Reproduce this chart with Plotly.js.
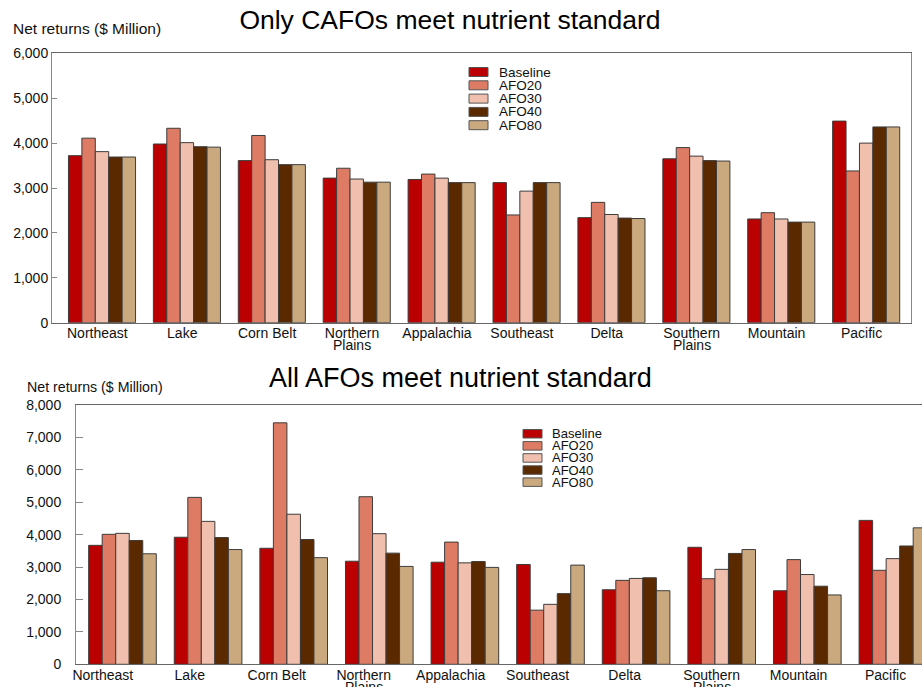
<!DOCTYPE html>
<html>
<head>
<meta charset="utf-8">
<script src="https://cdn.plot.ly/plotly-3.0.1.min.js"></script>
<style>
  html, body { margin: 0; padding: 0; background: #fff; }
  #chart { width: 922px; height: 687px; }
</style>
</head>
<body>
<div id="chart"></div>
<script>
// ---- Data ----
const categories = ['Northeast', 'Lake', 'Corn Belt', 'Northern Plains', 'Appalachia', 'Southeast', 'Delta', 'Southern Plains', 'Mountain', 'Pacific'];
const tickLine1 = ['Northeast', 'Lake', 'Corn Belt', 'Northern', 'Appalachia', 'Southeast', 'Delta', 'Southern', 'Mountain', 'Pacific'];
const tickLine2 = ['', '', '', 'Plains', '', '', '', 'Plains', '', ''];
const seriesNames = ['Baseline', 'AFO20', 'AFO30', 'AFO40', 'AFO80'];
const seriesColors = ['#BA0000', '#DE7B64', '#F1BFAD', '#5A2900', '#CAA97F'];

// Only CAFOs meet nutrient standard ($ Million)
const cafoBaseline = [3720, 3980, 3610, 3220, 3190, 3120, 2340, 3650, 2310, 4490];
const cafoAFO20    = [4110, 4330, 4170, 3440, 3310, 2400, 2680, 3900, 2450, 3380];
const cafoAFO30    = [3810, 4010, 3630, 3200, 3220, 2930, 2410, 3710, 2310, 4000];
const cafoAFO40    = [3690, 3920, 3520, 3130, 3120, 3120, 2330, 3610, 2240, 4360];
const cafoAFO80    = [3690, 3910, 3520, 3130, 3120, 3120, 2320, 3600, 2240, 4360];

// All AFOs meet nutrient standard ($ Million)
const afoBaseline = [3670, 3920, 3580, 3180, 3150, 3080, 2300, 3610, 2270, 4440];
const afoAFO20    = [4010, 5150, 7450, 5170, 3770, 1670, 2590, 2640, 3230, 2900];
const afoAFO30    = [4040, 4410, 4630, 4030, 3130, 1850, 2650, 2930, 2770, 3260];
const afoAFO40    = [3820, 3910, 3850, 3430, 3170, 2180, 2670, 3420, 2410, 3650];
const afoAFO80    = [3410, 3540, 3290, 3020, 2990, 3060, 2270, 3540, 2140, 4210];

const topTitle = 'Only CAFOs meet nutrient standard';
const bottomTitle = 'All AFOs meet nutrient standard';
const yTitle = 'Net returns ($ Million)';

// ---- Build ----
const cafoSeries = [cafoBaseline, cafoAFO20, cafoAFO30, cafoAFO40, cafoAFO80];
const afoSeries = [afoBaseline, afoAFO20, afoAFO30, afoAFO40, afoAFO80];
const idx = categories.map((c, i) => i);
const FONT = 'Liberation Sans, Arial, Helvetica, sans-serif';

const traces = [];
seriesNames.forEach((name, s) => {
  traces.push({
    type: 'bar', name: name, x: idx, y: cafoSeries[s],
    xaxis: 'x', yaxis: 'y',
    marker: { color: seriesColors[s], line: { color: '#3c3c3c', width: 1 } },
    customdata: categories, hovertemplate: '%{customdata}<br>' + name + ': %{y:,}<extra></extra>',
    showlegend: false
  });
});
seriesNames.forEach((name, s) => {
  traces.push({
    type: 'bar', name: name, x: idx, y: afoSeries[s],
    xaxis: 'x2', yaxis: 'y2',
    marker: { color: seriesColors[s], line: { color: '#3c3c3c', width: 1 } },
    customdata: categories, hovertemplate: '%{customdata}<br>' + name + ': %{y:,}<extra></extra>',
    showlegend: false
  });
});

const W = 922, H = 687;
const px = v => v / W;
const py = v => 1 - v / H;

const shapes = [];
const annotations = [];

// compact legends (shapes + text)
function addLegend(x0, y0, step, swW, swH, textX, fontSize) {
  seriesNames.forEach((name, s) => {
    const top = y0 + s * step;
    shapes.push({
      type: 'rect', xref: 'paper', yref: 'paper',
      x0: px(x0), x1: px(x0 + swW), y0: py(top + swH), y1: py(top),
      fillcolor: seriesColors[s], line: { color: '#555', width: 1 }
    });
    annotations.push({
      xref: 'paper', yref: 'paper', x: px(textX), y: py(top + swH / 2),
      xanchor: 'left', yanchor: 'middle', showarrow: false, text: name,
      font: { family: FONT, size: fontSize, color: '#111' }
    });
  });
}
addLegend(469, 67.5, 13.3, 19, 9, 497, 13.5);
addLegend(523, 429.5, 12.1, 19, 8.5, 550, 13);

const tickFont = { family: FONT, size: 14, color: '#111' };
const topTickVals = idx.map(i => i - 0.055);
const botTickVals = idx.map(i => i - 0.23 + 0.016 * i);

// second line of two-line category labels, placed tight under the first line
function addLine2(xref, vals, yCenter) {
  tickLine2.forEach((t, i) => {
    if (!t) return;
    annotations.push({
      xref: xref, yref: 'paper', x: vals[i], y: py(yCenter), xanchor: 'center', yanchor: 'middle',
      showarrow: false, text: t, font: tickFont
    });
  });
}
addLine2('x', topTickVals, 344.5);
addLine2('x2', botTickVals, 687.5);

annotations.push({
  xref: 'paper', yref: 'paper', x: px(460), y: py(378), xanchor: 'center', yanchor: 'middle',
  showarrow: false, text: bottomTitle, font: { family: FONT, size: 27, color: '#000' }
});
annotations.push({
  xref: 'paper', yref: 'paper', x: px(11), y: py(29), xanchor: 'left', yanchor: 'middle',
  showarrow: false, text: yTitle, font: { family: FONT, size: 15.5, color: '#111' }
});
annotations.push({
  xref: 'paper', yref: 'paper', x: px(25), y: py(387), xanchor: 'left', yanchor: 'middle',
  showarrow: false, text: yTitle, font: { family: FONT, size: 14.2, color: '#111' }
});

const layout = {
  width: W, height: H,
  margin: { l: 0, r: 0, t: 0, b: 0, pad: 0 },
  paper_bgcolor: '#fff', plot_bgcolor: '#fff',
  barmode: 'group', bargap: 0.21, bargroupgap: 0,
  title: {
    text: topTitle, x: px(450), xanchor: 'center', y: py(20), yanchor: 'middle',
    font: { family: FONT, size: 26.5, color: '#000' }
  },
  xaxis: {
    domain: [px(52), px(911)], anchor: 'y', range: [-0.589, 9.528],
    tickmode: 'array', tickvals: topTickVals, ticktext: tickLine1,
    ticks: '', ticklabelstandoff: -3, showgrid: false, zeroline: false,
    showline: true, linecolor: '#666', linewidth: 1, mirror: true,
    tickfont: tickFont, fixedrange: true
  },
  yaxis: {
    domain: [py(322.7), py(53.3)], anchor: 'x', range: [0, 6000],
    tickmode: 'linear', tick0: 0, dtick: 1000, tickformat: ',d',
    ticks: 'inside', ticklen: 5, tickcolor: '#888',
    showgrid: false, zeroline: false,
    showline: true, linecolor: '#888', linewidth: 1, mirror: true,
    tickfont: tickFont, fixedrange: true
  },
  xaxis2: {
    domain: [px(76), 1], anchor: 'y2', range: [-0.543, 9.34],
    tickmode: 'array', tickvals: botTickVals, ticktext: tickLine1,
    ticks: '', ticklabelstandoff: -2, showgrid: false, zeroline: false,
    showline: true, linecolor: '#666', linewidth: 1, mirror: true,
    tickfont: tickFont, fixedrange: true
  },
  yaxis2: {
    domain: [py(664.3), py(405)], anchor: 'x2', range: [0, 8000],
    tickmode: 'linear', tick0: 0, dtick: 1000, tickformat: ',d',
    ticks: 'inside', ticklen: 7, tickcolor: '#888',
    ticklabelstandoff: 11,
    showgrid: false, zeroline: false,
    showline: true, linecolor: '#888', linewidth: 1, mirror: false,
    tickfont: tickFont, fixedrange: true
  },
  shapes: shapes,
  annotations: annotations,
  showlegend: false
};

Plotly.newPlot('chart', traces, layout, { displayModeBar: false, responsive: false });
</script>
</body>
</html>
